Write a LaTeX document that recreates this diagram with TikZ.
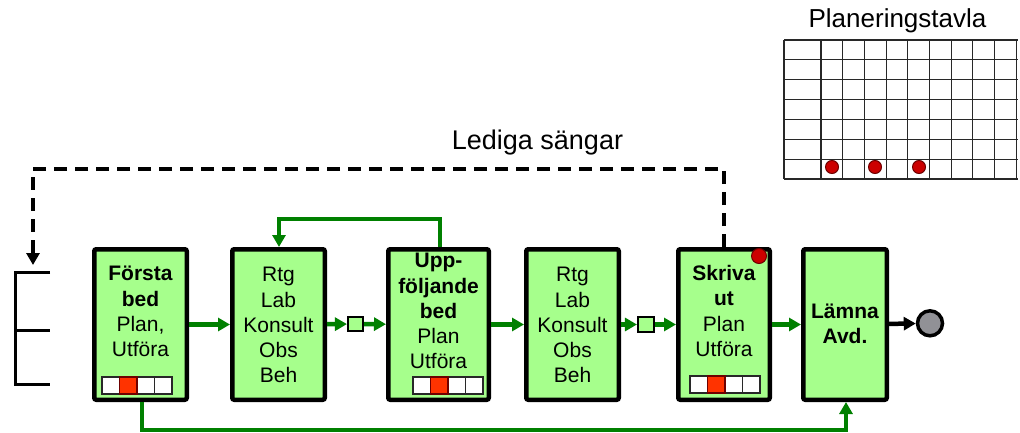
\documentclass[tikz,border=0pt]{standalone}
\usepackage{fontspec}
\setmainfont{Liberation Sans}
\usetikzlibrary{arrows.meta}
\definecolor{boxgreen}{RGB}{166,255,140}
\definecolor{flowgreen}{RGB}{0,128,0}
\definecolor{slotred}{RGB}{255,51,0}
\definecolor{pinred}{RGB}{204,0,0}
\definecolor{pinedge}{RGB}{110,0,0}
\definecolor{exitgrey}{RGB}{145,145,150}
\definecolor{gridline}{RGB}{40,40,40}
% centred lines whose baseline is that of the first line
\newcommand{\stacklines}[1]{\vtop{\halign{\hfil##\hfil\cr#1\crcr}}}
% four status slots, second one marked; #1,#2 = top left corner
\newcommand{\slotrow}[2]{%
  \foreach \k in {0,1,2,3}{%
    \draw[slot] ({#1+\k*17.5},#2) rectangle ++(17.5,17);}%
  \draw[slot,fill=slotred,draw=pinedge] ({#1+17.5},#2) rectangle ++(17.5,17);}
\begin{document}
\begin{tikzpicture}[x=1pt,y=-1pt,
  stage/.style={draw=black,line width=4.5pt,fill=boxgreen,rounded corners=2pt,
    inner sep=0pt,minimum height=150.5pt},
  boxtext/.style={anchor=base,inner sep=0pt,font=\fontsize{21}{25.3}\selectfont},
  queue/.style={draw=black,line width=1.6pt,fill=boxgreen,inner sep=0pt,
    minimum width=15.5pt,minimum height=14.5pt},
  tip/.style={-{Triangle[length=12pt,width=13pt]}},
  flow/.style={draw=flowgreen,line width=4.5pt,tip},
  freebed/.style={draw=black,line width=4.5pt,dash pattern=on 13pt off 8pt,tip},
  slot/.style={draw=gridline,line width=1.2pt,fill=white},
  pin/.style={circle,draw=pinedge,line width=1pt,fill=pinred,inner sep=0pt,minimum size=13pt},
]
\useasboundingbox (0,0) rectangle (1020,433);

% --- process stages ---
\node[stage,minimum width=92.5pt]  (b1) at (140.5,324.5) {};
\node[stage,minimum width=92.5pt]  (b2) at (278.5,324.5) {};
\node[stage,minimum width=100.5pt] (b3) at (438.5,324.5) {};
\node[stage,minimum width=92.5pt]  (b4) at (572.5,324.5) {};
\node[stage,minimum width=91.5pt]  (b5) at (724,324.5) {};
\node[stage,minimum width=83.5pt]  (b6) at (845,324.5) {};

\node[boxtext] (t1) at (140.5,280.7) {\stacklines{\textbf{Första}\cr\textbf{bed}\cr Plan,\cr Utföra}};
\node[boxtext] (t2) at (278.5,281.7) {\stacklines{Rtg\cr Lab\cr Konsult\cr Obs\cr Beh}};
\node[boxtext] (t3) at (438.5,267.7) {\stacklines{\textbf{Upp-}\cr\textbf{följande}\cr\textbf{bed}\cr Plan\cr Utföra}};
\node[boxtext] (t4) at (572.5,281.7) {\stacklines{Rtg\cr Lab\cr Konsult\cr Obs\cr Beh}};
\node[boxtext] (t5) at (724,280.5) {\stacklines{\textbf{Skriva}\cr\textbf{ut}\cr Plan\cr Utföra}};
\node[boxtext] (t6) at (845,318.3) {\stacklines{\textbf{Lämna}\cr\textbf{Avd.}}};

\slotrow{102}{377}
\slotrow{413}{377}
\slotrow{690}{376}
\node[pin,minimum size=15pt] (p5) at (759,256) {};

% --- waiting queues ---
\node[queue] (q1) at (355.5,324) {};
\node[queue,minimum width=16.5pt] (q2) at (646,324.5) {};

% --- exit ---
\node[circle,draw=black,line width=3.5pt,fill=exitgrey,inner sep=0pt,minimum size=25pt] (out) at (930,323.3) {};

% --- flow ---
\draw[flow] (b1) -- (b2);
\draw[flow] (b2) -- (q1);
\draw[flow] (q1) -- (b3);
\draw[flow] (b3) -- (b4);
\draw[flow] (b4) -- (q2);
\draw[flow] (q2) -- (b5);
\draw[flow] (b5) -- (b6);
\draw[draw=black,line width=4.5pt,tip] (b6) -- (out);

\coordinate (fbA) at (440,219);
\coordinate (fbB) at (279,219);
\draw[flow] (b3.north -| fbA) -- (fbA) -- (fbB) -- (b2.north -| fbB);

\coordinate (rtA) at (142,430);
\coordinate (rtB) at (846,430);
\draw[flow] (b1.south -| rtA) -- (rtA) -- (rtB) -- (b6.south -| rtB);

% --- free beds loop ---
\coordinate (fbd1) at (724,169);
\coordinate (fbd2) at (33,169);
\coordinate (bedin) at (33,265);
\draw[freebed] (b5.north) -- (fbd1) -- (fbd2) -- (bedin);
\node[anchor=base,inner sep=0pt,font=\fontsize{27}{30}\selectfont] (free) at (537.5,149.3) {Lediga sängar};

% --- bed bracket ---
\draw[line width=3pt] (50,272) -- (15,272) -- (15,384) -- (50,384);
\draw[line width=3pt] (15,330) -- (50,330);

% --- planning board ---
\node[anchor=base,inner sep=0pt,font=\fontsize{26}{30}\selectfont] (board) at (897.5,28) {Planeringstavla};
\foreach \yy in {40,59.86,79.71,99.57,119.43,139.29,159.14,179}
  \draw[gridline,line width=1.1pt] (784,\yy) -- (1018,\yy);
\foreach \xx in {784,821,842.7,864.4,886.1,907.8,929.5,951.2,972.9,994.6,1016.3}
  \draw[gridline,line width=1.1pt] (\xx,40) -- (\xx,179);
\node[pin] (d1) at (832,167) {};
\node[pin] (d2) at (875,167) {};
\node[pin] (d3) at (919,167) {};
\end{tikzpicture}
\end{document}
